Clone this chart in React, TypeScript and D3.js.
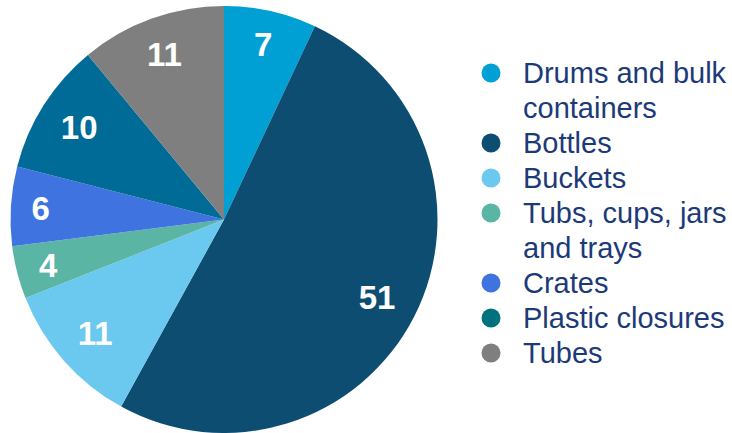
import React from "react";
import * as d3 from "d3";

const categories = [
  "Drums and bulk containers",
  "Bottles",
  "Buckets",
  "Tubs, cups, jars and trays",
  "Crates",
  "Plastic closures",
  "Tubes",
];
const legendLines = [
  ["Drums and bulk", "containers"],
  ["Bottles"],
  ["Buckets"],
  ["Tubs, cups, jars", "and trays"],
  ["Crates"],
  ["Plastic closures"],
  ["Tubes"],
];
const values = [7, 51, 11, 4, 6, 10, 11];
const sliceColors = ["#00a0d4", "#0d4d72", "#6bc8ee", "#5bb5a5", "#3f74e0", "#006b97", "#7f7f7f"];
const legendColors = ["#00a0d4", "#0d4d72", "#6bc8ee", "#5bb5a5", "#3f74e0", "#00717e", "#7f7f7f"];

const W = 732;
const H = 433;
const cx = 224;
const cy = 219.5;
const R = 213.5;
const labelFont = 33;
const legendFont = 29;
const lineH = 35;

export default function App() {
  const pie = d3.pie<number>().sort(null).value((d) => d);
  const arcs = pie(values);
  const arcGen = d3.arc<d3.PieArcDatum<number>>().innerRadius(0).outerRadius(R);

  let row = 0;
  const legendRows = legendLines.map((lines, i) => {
    const start = row;
    row += lines.length;
    return { lines, i, start };
  });

  return (
    <svg
      width={W}
      height={H}
      style={{ position: "absolute", left: 0, top: 0, fontFamily: "'Liberation Sans', Arial, sans-serif" }}
    >
      <g transform={`translate(${cx},${cy})`}>
        {arcs.map((a, i) => (
          <path key={i} d={arcGen(a) || ""} fill={sliceColors[i]} />
        ))}
        {arcs.map((a, i) => {
          const mid = (a.startAngle + a.endAngle) / 2;
          const ux = Math.sin(mid);
          const uy = -Math.cos(mid);
          const txt = String(values[i]);
          const hw = (txt.length * 0.556 * labelFont) / 2;
          const hh = 12;
          const ext = Math.abs(ux) * hw + Math.abs(uy) * hh;
          const r = R - 20 - ext;
          return (
            <text
              key={"l" + i}
              x={ux * r}
              y={uy * r}
              dy="0.36em"
              textAnchor="middle"
              fill="#ffffff"
              fontWeight="bold"
              fontSize={labelFont}
            >
              {txt}
            </text>
          );
        })}
      </g>
      <g>
        {legendRows.map(({ lines, i, start }) => {
          const y0 = 73 + start * lineH;
          return (
            <g key={i}>
              <circle cx={491} cy={y0} r={9.5} fill={legendColors[i]} />
              {lines.map((ln, k) => (
                <text
                  key={k}
                  x={523}
                  y={y0 + k * lineH + 10.4}
                  fontSize={legendFont}
                  fill="#1c3a78"
                >
                  {ln}
                </text>
              ))}
            </g>
          );
        })}
      </g>
    </svg>
  );
}
